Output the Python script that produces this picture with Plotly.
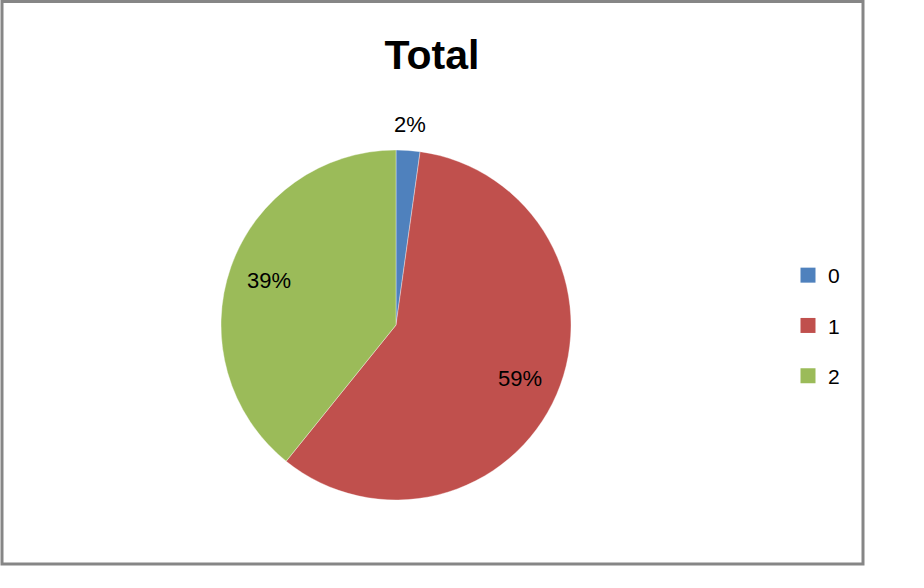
import math
import plotly.graph_objects as go

# ---- data ----
categories = ["0", "1", "2"]
values = [2.2, 58.6, 39.2]
colors = ["#4F81BD", "#C0504D", "#9BBB59"]
title_text = "Total"

W, H = 924, 588
cx_px, cy_px, R = 396, 325, 175

fig = go.Figure()
fig.add_trace(go.Pie(
    labels=categories, values=values, sort=False, direction="clockwise", rotation=0,
    marker=dict(colors=colors, line=dict(color="rgba(255,255,255,0.6)", width=0.6)),
    textinfo="none", hoverinfo="label+percent", showlegend=False,
    domain=dict(x=[(cx_px - R) / W, (cx_px + R) / W],
                y=[1 - (cy_px + R) / H, 1 - (cy_px - R) / H]),
))

# legend entries (one per category)
for c, col in zip(categories, colors):
    fig.add_trace(go.Scatter(
        x=[None], y=[None], mode="markers", name=c, legendgroup=c,
        marker=dict(symbol="square", size=15, color=col), showlegend=True,
    ))

# percentage labels positioned along each slice bisector
total = sum(values)
cum = 0.0
annotations = []
for i, v in enumerate(values):
    frac = v / total
    mid = (cum + frac / 2) * 2 * math.pi
    cum += frac
    f = 1.15 if frac < 0.05 else 0.77
    x_px = cx_px + R * f * math.sin(mid)
    y_px = cy_px - R * f * math.cos(mid)
    annotations.append(dict(
        x=x_px / W, y=1 - y_px / H, xref="paper", yref="paper",
        text=f"{round(frac * 100)}%", showarrow=False,
        font=dict(family="Liberation Sans, Arial, sans-serif", size=22, color="#000000"),
        xanchor="center", yanchor="middle",
    ))

fig.update_layout(
    width=W, height=H,
    margin=dict(l=0, r=0, t=0, b=0),
    paper_bgcolor="white", plot_bgcolor="white",
    title=dict(text=f"<b>{title_text}</b>", x=432 / W, xanchor="center",
               y=1 - 55 / H, yanchor="middle", yref="container",
               font=dict(family="Liberation Sans, Arial, sans-serif", size=41, color="#000000")),
    xaxis=dict(visible=False), yaxis=dict(visible=False),
    legend=dict(x=788 / W, y=1 - 255 / H, xanchor="left", yanchor="top",
                font=dict(family="Liberation Sans, Arial, sans-serif", size=21, color="#000000"),
                tracegroupgap=20, bgcolor="rgba(0,0,0,0)", itemclick=False),
    annotations=annotations,
    shapes=[dict(type="rect", xref="paper", yref="paper",
                 x0=2 / W, x1=863 / W, y0=1 - 564 / H, y1=1 - 1.5 / H,
                 line=dict(color="#868686", width=3), fillcolor="rgba(0,0,0,0)")],
)

fig.write_html("out.html", config={"displayModeBar": False},
               post_script="document.body.style.margin='0px';document.body.style.padding='0px';")
